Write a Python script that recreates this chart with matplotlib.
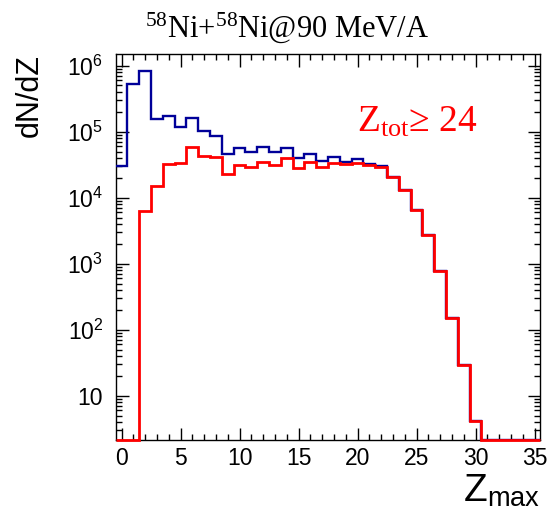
"""Zmax distribution, 58Ni+58Ni @ 90 MeV/A, all events vs Ztot >= 24."""
import numpy as np
import matplotlib
matplotlib.use("Agg")
import matplotlib.pyplot as plt
from matplotlib.ticker import FixedLocator, LogLocator, NullFormatter, FuncFormatter, MultipleLocator

plt.rcParams['font.family'] = ['Liberation Sans', 'DejaVu Sans']
plt.rcParams['mathtext.fontset'] = 'custom'
plt.rcParams['mathtext.rm'] = 'Liberation Serif'
plt.rcParams['mathtext.it'] = 'Liberation Serif:italic'
plt.rcParams['mathtext.sf'] = 'Liberation Sans'

# --- Data (bins centred on integer Zmax, width 1) ---
zmax = np.arange(0, 36)
all_events = [3.0e4, 5.2e5, 8.3e5, 1.56e5, 1.73e5, 1.16e5, 1.59e5, 1.02e5, 8.6e4, 4.6e4,
              5.7e4, 5.0e4, 5.9e4, 5.0e4, 5.7e4, 4.0e4, 4.6e4, 3.65e4, 4.2e4, 3.5e4,
              3.8e4, 3.25e4, 3.03e4, 2.02e4, 1.31e4, 6.6e3, 2.75e3, 767, 150, 29,
              4.2, 0, 0, 0, 0, 0]
ztot_cut = [0, 0, 6.2e3, 1.48e4, 3.22e4, 3.33e4, 5.9e4, 4.3e4, 4.1e4, 2.3e4,
            3.07e4, 2.9e4, 3.5e4, 3.07e4, 4.0e4, 2.86e4, 3.45e4, 2.95e4, 3.33e4, 3.2e4,
            3.4e4, 3.14e4, 2.9e4, 2.02e4, 1.31e4, 6.6e3, 2.75e3, 767, 150, 29,
            4.2, 0, 0, 0, 0, 0]

YMIN, YMAX = 2.1, 1.5e6
edges = np.append(zmax - 0.5, zmax[-1] + 0.5)

fig = plt.figure(figsize=(5.49, 5.17), dpi=100)
ax = fig.add_axes([0.2107, 0.148, 0.7738, 0.7476])

# empty bins sit on the bottom of the log axis, ROOT-style
blue = np.where(np.array(all_events) > 0, all_events, YMIN)
red = np.where(np.array(ztot_cut) > 0, ztot_cut, YMIN)
ax.stairs(blue, edges, baseline=None, color='#000099', lw=1.7, zorder=3)
ax.stairs(red, edges, baseline=None, color='#ff0000', lw=2.0, zorder=4, clip_on=False)

ax.set_yscale('log')
ax.set_xlim(-0.5, 35.5)
ax.set_ylim(YMIN, YMAX)

ax.xaxis.set_major_locator(MultipleLocator(5))
ax.xaxis.set_minor_locator(MultipleLocator(1))
ax.yaxis.set_major_locator(FixedLocator([10, 1e2, 1e3, 1e4, 1e5, 1e6]))
ax.yaxis.set_minor_locator(LogLocator(base=10, subs=np.arange(2, 10)))
ax.yaxis.set_minor_formatter(NullFormatter())


def ylab(v, pos):
    n = int(round(np.log10(v)))
    if n == 1:
        return '10'
    return r'$\mathsf{10^{%d}}$' % n


ax.yaxis.set_major_formatter(FuncFormatter(ylab))

ax.tick_params(which='both', direction='in', top=True, right=True, width=1, labelsize=16.5)
ax.tick_params(which='major', length=9)
ax.tick_params(which='minor', length=4)
ax.tick_params(axis='y', pad=9)
ax.tick_params(axis='x', pad=5)
for s in ax.spines.values():
    s.set_linewidth(1)

ax.set_xlabel(r'Z$_{\mathsf{max}}$', loc='right', fontsize=28)
ax.xaxis.set_label_coords(1.0, -0.083)
ax.set_ylabel('dN/dZ', loc='top', fontsize=22)
ax.yaxis.set_label_coords(-0.167, 1.0)

fig.text(0.523, 1 - 28 / 517, r'$^{58}$Ni+$^{58}$Ni@90 MeV/A', ha='center', va='center',
         fontsize=22, family='Liberation Serif')
ax.text(0.568, 0.799, r'Z$_{\mathrm{tot}}$≥ 24', transform=ax.transAxes, ha='left',
        va='baseline', fontsize=27, color='#ff0000', family='Liberation Serif')

fig.savefig("out.png", dpi=100)
